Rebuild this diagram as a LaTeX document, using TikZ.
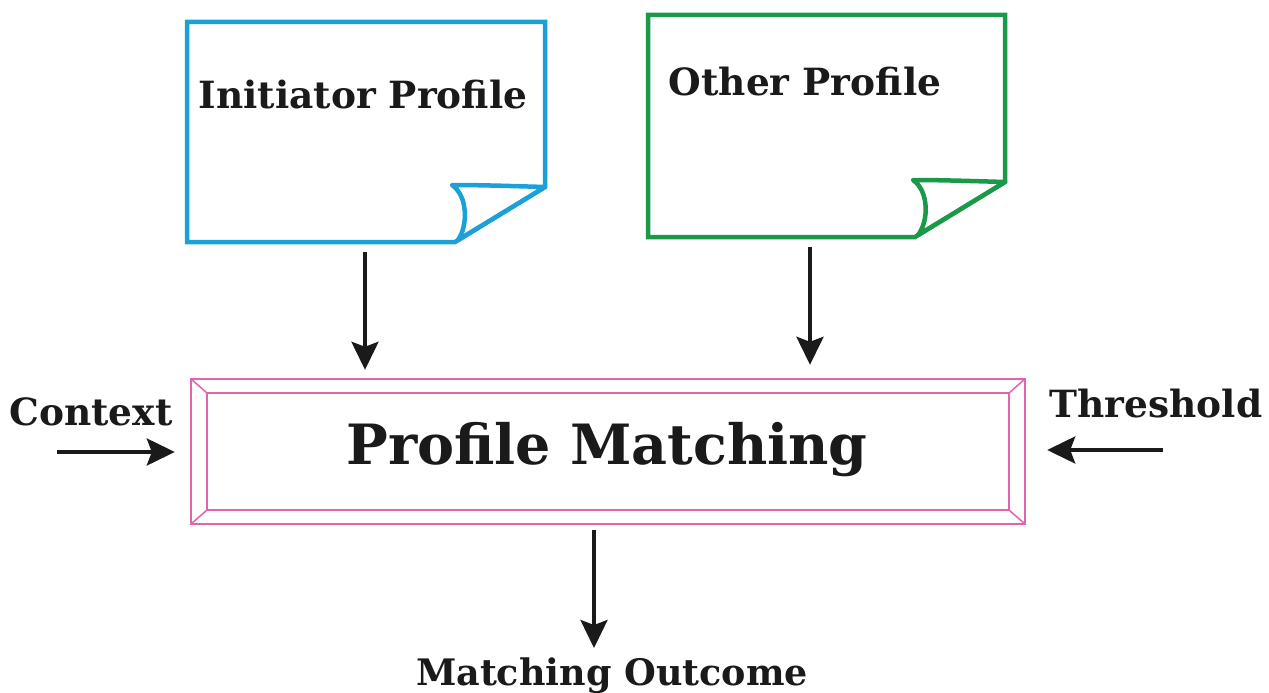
\documentclass[tikz,border=0pt]{standalone}
\usepackage{fontspec}
\setmainfont{DejaVu Serif}
\usetikzlibrary{arrows.meta,calc}
\definecolor{pageblue}{HTML}{1BA0D8}
\definecolor{pagegreen}{HTML}{1A9A48}
\definecolor{bevelpink}{HTML}{E063AE}
\definecolor{ink}{HTML}{1A1A1A}
\tikzset{
  x=1pt, y=-1pt,
  page/.style={line width=4.5pt, line join=miter, fill=white},
  arr/.style={draw=ink, line width=3.6pt, -{Stealth[length=28pt, width=27pt, inset=5pt, fill=ink]}},
  lbl/.style={text=ink, font=\bfseries\fontsize{37.5}{40}\selectfont, inner sep=0pt},
  bevel/.style={draw=bevelpink, line width=1.5pt},
}
\begin{document}
\begin{tikzpicture}
\useasboundingbox (0,0) rectangle (1269,693);

% sender page with curled corner
\draw[page, draw=pageblue] (187,22) -- (545,22) -- (545,187) -- (455,242) -- (187,242) -- cycle;
\draw[page, draw=pageblue, line join=round]
  (545,187) .. controls (510,186) and (480,185) .. (452,185)
  .. controls (468,196) and (468,226) .. (458,240) -- cycle;
\node[lbl] (init) at (363,95) {Initiator Profile};
\coordinate (init-out) at (365,252);

% other page with curled corner
\draw[page, draw=pagegreen] (648,15) -- (1005,15) -- (1005,182) -- (915,237) -- (648,237) -- cycle;
\draw[page, draw=pagegreen, line join=round]
  (1005,182) .. controls (970,181) and (940,180) .. (913,180)
  .. controls (929,191) and (929,221) .. (918,235) -- cycle;
\node[lbl] (other) at (805,82) {Other Profile};
\coordinate (other-out) at (810,247);

% bevelled matching box
\node[minimum width=834pt, minimum height=145pt, inner sep=0pt] (pm) at (608,451.5) {};
\node[minimum width=802pt, minimum height=117pt, inner sep=0pt] (pmin) at (608,451.5) {};
\draw[bevel] (pm.north west) rectangle (pm.south east);
\draw[bevel] (pmin.north west) rectangle (pmin.south east);
\draw[bevel] (pm.north west) -- (pmin.north west)
             (pm.north east) -- (pmin.north east)
             (pm.south west) -- (pmin.south west)
             (pm.south east) -- (pmin.south east);
\node[text=ink, font=\bfseries\fontsize{55.5}{60}\selectfont, inner sep=0pt] (pmtext) at (607,450) {Profile Matching};

% side inputs
\node[lbl] (ctx) at (91,412) {Context};
\coordinate (ctx-in) at (57,452);
\node[lbl] (thr) at (1156,404) {Threshold};
\coordinate (thr-in) at (1163,450);

% result
\node[lbl, font=\bfseries\fontsize{36.5}{40}\selectfont] (out) at (612,676) {Matching Outcome};
\coordinate (pm-out) at (594,530);

% connectors
\draw[arr] (init-out) -- ($(init-out |- pm.north)+(0,-9)$);
\draw[arr] (other-out) -- ($(other-out |- pm.north)+(0,-14)$);
\draw[arr] (ctx-in) -- ($(ctx-in -| pm.west)+(-16,0)$);
\draw[arr] (thr-in) -- ($(thr-in -| pm.east)+(22,0)$);
\draw[arr] (pm-out) -- (pm-out |- 0,648);
\end{tikzpicture}
\end{document}
